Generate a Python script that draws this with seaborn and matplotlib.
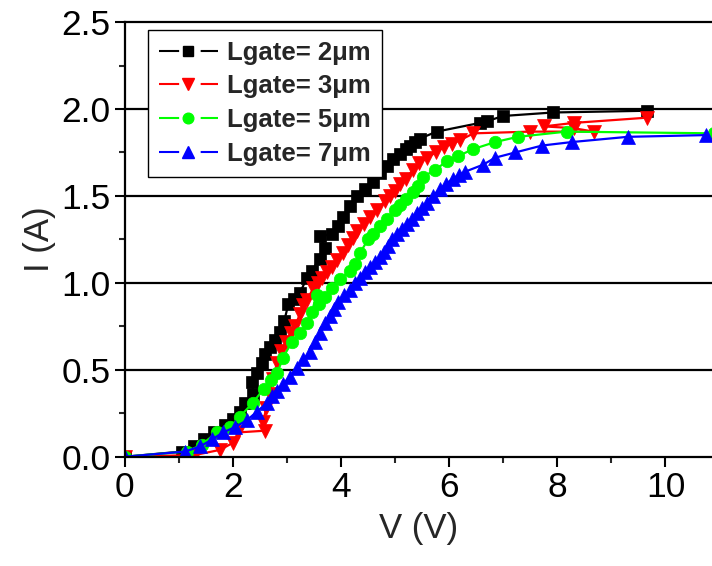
import matplotlib
matplotlib.use("Agg")
import matplotlib.pyplot as plt
from matplotlib.lines import Line2D
from matplotlib.ticker import MultipleLocator
import seaborn as sns
import pandas as pd

# Measured I-V curves for four gate lengths
v_2um = [0.0, 1.06, 1.29, 1.47, 1.65, 1.86, 2.0, 2.13, 2.23, 2.38, 2.36, 2.45, 2.54, 2.6, 2.69,
         2.78, 2.87, 2.95, 3.03, 3.13, 3.24, 3.37, 3.46, 3.61, 3.71, 3.61, 3.83, 3.95, 4.04, 4.17,
         4.3, 4.45, 4.6, 4.72, 4.85, 4.97, 5.09, 5.2, 5.28, 5.37, 5.46, 5.77, 6.57, 6.7, 7.0,
         7.92, 9.66]
i_2um = [0.0, 0.03, 0.06, 0.10, 0.14, 0.18, 0.22, 0.26, 0.31, 0.36, 0.43, 0.48, 0.54, 0.59, 0.63,
         0.67, 0.72, 0.78, 0.88, 0.91, 0.94, 1.03, 1.07, 1.14, 1.20, 1.27, 1.28, 1.33, 1.38, 1.44,
         1.50, 1.54, 1.58, 1.63, 1.67, 1.71, 1.74, 1.77, 1.79, 1.81, 1.83, 1.87, 1.92, 1.93, 1.96,
         1.98, 1.99]

v_3um = [0.0, 1.3, 1.77, 2.0, 2.1, 2.6, 2.56, 2.62, 2.68, 2.74, 2.82, 2.9, 2.98, 3.07, 3.15, 3.24,
         3.3, 3.37, 3.49, 3.57, 3.65, 3.74, 3.83, 3.93, 4.03, 4.13, 4.22, 4.3, 4.42, 4.54, 4.66,
         4.81, 4.9, 5.0, 5.1, 5.2, 5.33, 5.45, 5.6, 5.75, 5.9, 6.05, 6.2, 6.45, 7.5, 8.67, 8.3,
         7.75, 8.3, 9.65]
i_3um = [0.0, 0.01, 0.04, 0.08, 0.14, 0.15, 0.20, 0.28, 0.36, 0.45, 0.54, 0.61, 0.66, 0.71, 0.75,
         0.82, 0.87, 0.90, 0.97, 1.00, 1.03, 1.06, 1.09, 1.13, 1.17, 1.22, 1.26, 1.30, 1.34, 1.38,
         1.42, 1.47, 1.50, 1.53, 1.57, 1.60, 1.65, 1.69, 1.72, 1.75, 1.78, 1.80, 1.82, 1.86, 1.87,
         1.87, 1.89, 1.90, 1.92, 1.95]

v_5um = [0.0, 1.15, 1.43, 1.7, 1.95, 2.13, 2.37, 2.57, 2.7, 2.82, 2.93, 3.09, 3.24, 3.37, 3.46,
         3.55, 3.6, 3.7, 3.83, 3.98, 4.17, 4.26, 4.35, 4.5, 4.6, 4.72, 4.85, 5.0, 5.09, 5.2, 5.33,
         5.42, 5.52, 5.74, 5.96, 6.17, 6.45, 6.85, 7.27, 8.17, 10.9]
i_5um = [0.0, 0.03, 0.07, 0.14, 0.17, 0.23, 0.31, 0.39, 0.44, 0.48, 0.57, 0.66, 0.71, 0.77, 0.83,
         0.93, 0.88, 0.92, 0.97, 1.02, 1.07, 1.11, 1.17, 1.25, 1.28, 1.33, 1.37, 1.42, 1.45, 1.48,
         1.52, 1.56, 1.61, 1.65, 1.70, 1.73, 1.77, 1.81, 1.84, 1.87, 1.86]

v_7um = [0.0, 1.12, 1.4, 1.62, 1.82, 2.04, 2.26, 2.45, 2.63, 2.72, 2.82, 2.93, 3.06, 3.18, 3.3,
         3.43, 3.52, 3.61, 3.71, 3.8, 3.88, 3.94, 4.06, 4.17, 4.26, 4.35, 4.45, 4.54, 4.63, 4.72,
         4.8, 4.87, 4.95, 5.04, 5.13, 5.22, 5.31, 5.4, 5.5, 5.59, 5.7, 5.83, 5.95, 6.07, 6.18,
         6.3, 6.63, 6.85, 7.22, 7.72, 8.27, 9.3, 10.75]
i_7um = [0.0, 0.03, 0.06, 0.10, 0.14, 0.17, 0.21, 0.26, 0.31, 0.35, 0.38, 0.42, 0.46, 0.51, 0.56,
         0.60, 0.66, 0.71, 0.77, 0.81, 0.85, 0.89, 0.93, 0.96, 1.00, 1.03, 1.06, 1.09, 1.12, 1.15,
         1.18, 1.21, 1.25, 1.28, 1.31, 1.34, 1.37, 1.40, 1.43, 1.46, 1.50, 1.54, 1.57, 1.60, 1.62,
         1.64, 1.68, 1.72, 1.75, 1.79, 1.81, 1.84, 1.85]

labels = ["Lgate= 2\u03bcm", "Lgate= 3\u03bcm", "Lgate= 5\u03bcm", "Lgate= 7\u03bcm"]
colors = ["#000000", "#ff0000", "#00ff00", "#0000ff"]
markers = ["s", "v", "o", "^"]
msizes = [8.0, 10.0, 9.0, 10.0]

x_ticks = [0, 2, 4, 6, 8, 10]
y_ticks = [0.0, 0.5, 1.0, 1.5, 2.0, 2.5]

sns.set_style("ticks")
plt.rcParams["font.family"] = ["Liberation Sans", "DejaVu Sans"]
plt.rcParams["lines.scale_dashes"] = False

fig = plt.figure(figsize=(7.12, 5.66), dpi=100)
ax = fig.add_axes([0.175, 0.193, 0.825, 0.768])

series = [(v_2um, i_2um), (v_3um, i_3um), (v_5um, i_5um), (v_7um, i_7um)]
for (vv, ii), lab, col, mk, ms in zip(series, labels, colors, markers, msizes):
    df = pd.DataFrame({"V": vv, "I": ii})
    sns.lineplot(data=df, x="V", y="I", sort=False, estimator=None, ax=ax,
                 color=col, marker=mk, markersize=ms, markeredgecolor=col,
                 markeredgewidth=0.5, linewidth=1.6, legend=False)

# horizontal reference lines at the major y ticks
for yv in y_ticks[1:-1]:
    ax.axhline(yv, color="black", linewidth=1.6, zorder=0.5)

ax.set_xlim(0, 10.86)
ax.set_ylim(0, 2.5)
ax.set_xticks(x_ticks)
ax.set_yticks(y_ticks)
ax.set_xticklabels([str(t) for t in x_ticks])
ax.set_yticklabels([f"{t:.1f}" for t in y_ticks])
ax.xaxis.set_minor_locator(MultipleLocator(1))
ax.yaxis.set_minor_locator(MultipleLocator(0.25))
ax.tick_params(which="major", direction="out", length=7, width=1.5, labelsize=25.5,
               colors="black", pad=3)
ax.tick_params(which="minor", direction="out", length=4, width=1.5)
ax.tick_params(axis="x", which="both", top=False)
ax.tick_params(axis="y", which="both", right=False)

for side in ["left", "bottom", "top"]:
    ax.spines[side].set_linewidth(1.6)
    ax.spines[side].set_color("black")
ax.spines["right"].set_visible(False)

ax.set_xlabel("V (V)", fontsize=25, labelpad=6)
ax.set_ylabel("I (A)", fontsize=25, labelpad=4)

handles = [Line2D([0], [0], color=c, marker=m, markersize=s * 0.85, markeredgecolor=c,
                  linewidth=1.5, dashes=(14.5, 15.5))
           for c, m, s in zip(colors, markers, msizes)]
leg = ax.legend(handles, labels, loc="upper left", bbox_to_anchor=(0.04, 0.982),
                borderaxespad=0, frameon=True, fancybox=False, edgecolor="black",
                framealpha=1.0, facecolor="white",
                handlelength=2.3, handletextpad=0.35, labelspacing=0.38,
                borderpad=0.42, numpoints=1,
                prop={"weight": "bold", "size": 18.5})
leg.get_frame().set_linewidth(1.0)

fig.savefig("out.png", dpi=100)
